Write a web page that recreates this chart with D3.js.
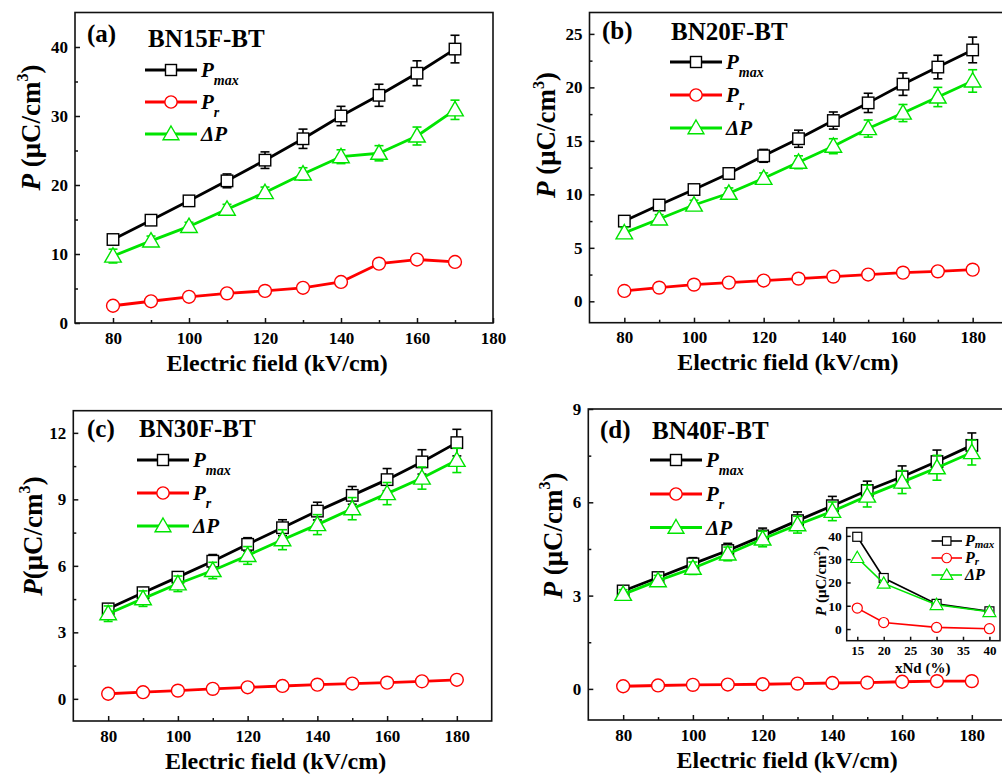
<!DOCTYPE html>
<html>
<head>
<meta charset="utf-8">
<script src="https://cdn.jsdelivr.net/npm/d3@7"></script>
<style>
html, body { margin: 0; padding: 0; background: #fff; }
svg { display: block; font-family: "Liberation Serif", "Times New Roman", serif; }
</style>
</head>
<body>
<svg id="chart" width="1002" height="775"></svg>
<script>
// ---- Polarization vs electric field, four compositions ----
const fieldA = [80, 90, 100, 110, 120, 130, 140, 150, 160, 170];
const pmaxA = [12.1, 14.9, 17.7, 20.6, 23.6, 26.7, 30.0, 33.0, 36.2, 39.7];
const pmaxErrA = [0.5, 0.5, 0.7, 1.0, 1.2, 1.4, 1.4, 1.6, 1.8, 2.0];
const prA = [2.5, 3.15, 3.8, 4.3, 4.65, 5.1, 5.95, 8.6, 9.2, 8.85];
const dpA = [9.7, 11.9, 14.0, 16.5, 18.9, 21.6, 24.1, 24.6, 27.1, 30.9];
const dpErrA = [1.0, 0.7, 0.6, 0.7, 0.8, 0.9, 1.0, 1.1, 1.3, 1.4];

const fieldB = [80, 90, 100, 110, 120, 130, 140, 150, 160, 170, 180];
const pmaxB = [7.5, 9.0, 10.45, 11.95, 13.6, 15.2, 16.9, 18.55, 20.3, 21.9, 23.5];
const pmaxErrB = [0.3, 0.3, 0.4, 0.5, 0.6, 0.8, 0.8, 0.9, 1.05, 1.1, 1.2];
const prB = [0.97, 1.28, 1.56, 1.75, 1.94, 2.12, 2.31, 2.5, 2.68, 2.8, 2.96];
const dpB = [6.4, 7.7, 9.0, 10.1, 11.5, 13.0, 14.5, 16.15, 17.6, 19.1, 20.6];
const dpErrB = [0.5, 0.4, 0.45, 0.5, 0.5, 0.6, 0.7, 0.8, 0.8, 0.9, 1.05];

const fieldC = [80, 90, 100, 110, 120, 130, 140, 150, 160, 170, 180];
const pmaxC = [4.06, 4.79, 5.49, 6.21, 6.97, 7.72, 8.47, 9.18, 9.89, 10.69, 11.56];
const pmaxErrC = [0.2, 0.2, 0.2, 0.3, 0.3, 0.36, 0.4, 0.4, 0.5, 0.55, 0.6];
const prC = [0.23, 0.3, 0.37, 0.45, 0.52, 0.58, 0.64, 0.69, 0.73, 0.79, 0.86];
const dpC = [3.84, 4.52, 5.19, 5.79, 6.47, 7.18, 7.86, 8.58, 9.26, 9.96, 10.76];
const dpErrC = [0.35, 0.35, 0.35, 0.37, 0.4, 0.45, 0.45, 0.5, 0.5, 0.5, 0.55];

const fieldD = [80, 90, 100, 110, 120, 130, 140, 150, 160, 170, 180];
const pmaxD = [3.15, 3.58, 4.02, 4.45, 4.92, 5.41, 5.89, 6.38, 6.82, 7.31, 7.83];
const pmaxErrD = [0.12, 0.15, 0.2, 0.23, 0.25, 0.28, 0.3, 0.3, 0.35, 0.37, 0.4];
const prD = [0.085, 0.11, 0.13, 0.14, 0.15, 0.17, 0.19, 0.2, 0.23, 0.25, 0.25];
const dpD = [3.04, 3.48, 3.88, 4.34, 4.82, 5.28, 5.71, 6.2, 6.65, 7.11, 7.6];
const dpErrD = [0.15, 0.17, 0.2, 0.22, 0.25, 0.27, 0.3, 0.35, 0.37, 0.4, 0.4];

// tick labels
const fieldTicks = [80, 100, 120, 140, 160, 180];
const yTicksA = [0, 10, 20, 30, 40];
const yTicksB = [0, 5, 10, 15, 20, 25];
const yTicksC = [0, 3, 6, 9, 12];
const yTicksD = [0, 3, 6, 9];

// ---- Inset: values at the highest field vs Nd content ----
const ndContent = [15, 20, 30, 40];
const insetPmax = [39.6, 21.9, 10.8, 7.6];
const insetPr = [9.0, 2.8, 0.7, 0.15];
const insetDp = [30.6, 19.6, 10.4, 7.4];
const insetXTicks = [15, 20, 25, 30, 35, 40];
const insetYTicks = [0, 10, 20, 30, 40];

const COLORS = { Pmax: "#000000", Pr: "#ff0000", "ΔP": "#00e400" };
const SHAPES = { Pmax: "square", Pr: "circle", "ΔP": "triangle" };

const svg = d3.select("#chart");
svg.append("rect").attr("width", 1002).attr("height", 775).attr("fill", "#fff");

function drawMarker(g, shape, cx, cy, size, color, sw) {
  if (shape === "square") {
    g.append("rect").attr("x", cx - size / 2).attr("y", cy - size / 2)
      .attr("width", size).attr("height", size)
      .attr("fill", "#fff").attr("stroke", color).attr("stroke-width", sw);
  } else if (shape === "circle") {
    g.append("circle").attr("cx", cx).attr("cy", cy).attr("r", size * 0.56)
      .attr("fill", "#fff").attr("stroke", color).attr("stroke-width", sw);
  } else {
    const w = size * 0.72, h = size * 1.25;
    const pts = [[cx, cy - h * 0.58], [cx + w, cy + h * 0.42], [cx - w, cy + h * 0.42]];
    g.append("path").attr("d", "M" + pts.map(p => p.join(",")).join("L") + "Z")
      .attr("fill", "#fff").attr("stroke", color).attr("stroke-width", sw);
  }
}

function styleAxis(g, size) {
  g.attr("font-family", "Liberation Serif, Times New Roman, serif")
    .attr("font-size", size).attr("font-weight", "bold");
  g.select(".domain").remove();
  g.selectAll(".tick line").attr("stroke", "#111").attr("stroke-width", 1.5);
  g.selectAll(".tick text").attr("fill", "#000");
}

function midpoints(t) {
  const out = [];
  for (let i = 0; i < t.length - 1; i++) out.push((t[i] + t[i + 1]) / 2);
  return out;
}

function pLabel(g, x, y, size, superscript, spaced) {
  const t = g.append("text")
    .attr("transform", `translate(${x},${y}) rotate(-90)`)
    .attr("text-anchor", "middle")
    .attr("font-size", size).attr("font-weight", "bold").attr("fill", "#000");
  t.append("tspan").attr("font-style", "italic").text("P");
  t.append("tspan").text((spaced ? " " : "") + "(μC/cm");
  t.append("tspan").attr("font-size", size * 0.6).attr("dy", -size * 0.42).text(superscript);
  t.append("tspan").attr("dy", size * 0.42).text(")");
}

function legendText(g, x, y, name, size, subSize, subDy) {
  const t = g.append("text").attr("x", x).attr("y", y)
    .attr("font-size", size).attr("font-weight", "bold").attr("font-style", "italic")
    .attr("fill", "#000");
  if (name === "ΔP") {
    t.text("ΔP");
  } else {
    t.append("tspan").text("P");
    t.append("tspan").attr("font-size", subSize).attr("dy", subDy)
      .text(name === "Pmax" ? "max" : "r");
  }
}

function drawPanel(p) {
  const x = d3.scaleLinear().domain(p.xDomain).range([p.left, p.right]);
  const y = d3.scaleLinear().domain(p.yDomain).range([p.bottom, p.top]);
  const g = svg.append("g");

  // axes with inward ticks
  const xa = g.append("g").attr("transform", `translate(0,${p.bottom})`)
    .call(d3.axisBottom(x).tickValues(fieldTicks).tickSizeInner(-5).tickSizeOuter(0)
      .tickPadding(8.5).tickFormat(d3.format("d")));
  styleAxis(xa, 17);
  const xm = g.append("g").attr("transform", `translate(0,${p.bottom})`)
    .call(d3.axisBottom(x).tickValues(midpoints(fieldTicks).filter(v => v < p.xDomain[1]))
      .tickSizeInner(-3).tickSizeOuter(0).tickFormat(""));
  styleAxis(xm, 17);
  const ya = g.append("g").attr("transform", `translate(${p.left},0)`)
    .call(d3.axisLeft(y).tickValues(p.yTicks).tickSizeInner(-5).tickSizeOuter(0)
      .tickPadding(7).tickFormat(d3.format("d")));
  styleAxis(ya, 17);
  const ym = g.append("g").attr("transform", `translate(${p.left},0)`)
    .call(d3.axisLeft(y).tickValues(midpoints(p.yTicks)).tickSizeInner(-3).tickSizeOuter(0).tickFormat(""));
  styleAxis(ym, 17);

  // frame
  g.append("rect").attr("x", p.left).attr("y", p.top)
    .attr("width", p.right - p.left).attr("height", p.bottom - p.top)
    .attr("fill", "none").attr("stroke", "#111").attr("stroke-width", 1.6);

  // series: line, error bars, markers
  const line = d3.line().x(d => x(d[0])).y(d => y(d[1]));
  p.series.forEach(s => {
    const color = COLORS[s.name];
    const pts = p.field.map((f, i) => [f, s.values[i]]);
    g.append("path").attr("d", line(pts)).attr("fill", "none")
      .attr("stroke", color).attr("stroke-width", 2.8).attr("stroke-linejoin", "round");
    if (s.errors) {
      pts.forEach((d, i) => {
        const cx = x(d[0]), y1 = y(d[1] + s.errors[i]), y2 = y(d[1] - s.errors[i]);
        g.append("line").attr("x1", cx).attr("x2", cx).attr("y1", y1).attr("y2", y2)
          .attr("stroke", color).attr("stroke-width", 1.6);
        [y1, y2].forEach(yy => g.append("line").attr("x1", cx - 4.5).attr("x2", cx + 4.5)
          .attr("y1", yy).attr("y2", yy).attr("stroke", color).attr("stroke-width", 1.6));
      });
    }
    pts.forEach(d => drawMarker(g, SHAPES[s.name], x(d[0]), y(d[1]), 11.5, color, 1.4));
  });

  // axis titles
  g.append("text").attr("x", (p.left + Math.min(p.right, 1000)) / 2 - 7)
    .attr("y", p.bottom + 47.5).attr("text-anchor", "middle")
    .attr("font-size", 24).attr("font-weight", "bold").attr("fill", "#000")
    .text("Electric field (kV/cm)");
  pLabel(g, p.yLabel[0], p.yLabel[1], 27, "3", p.spaced);

  // panel letter and composition
  g.append("text").attr("x", p.letterPos[0]).attr("y", p.letterPos[1])
    .attr("font-size", 25).attr("font-weight", "bold").attr("fill", "#000").text(p.letter);
  g.append("text").attr("x", p.titlePos[0]).attr("y", p.titlePos[1])
    .attr("font-size", 25).attr("font-weight", "bold").attr("fill", "#000").text(p.title);

  // legend
  p.series.forEach((s, i) => {
    const ly = p.legendRows[i], lx = p.legendX, color = COLORS[s.name];
    g.append("line").attr("x1", lx).attr("x2", lx + 52).attr("y1", ly).attr("y2", ly)
      .attr("stroke", color).attr("stroke-width", 2.8);
    drawMarker(g, SHAPES[s.name], lx + 26, ly, 11, color, 1.4);
    legendText(g, lx + 56, ly + 7, s.name, 21, 14, 8);
  });
  return { x, y };
}

const panels = [
  {
    letter: "(a)", title: "BN15F-BT", left: 75, right: 493, top: 12.5, bottom: 323,
    xDomain: [70, 180], yDomain: [0, 45], yTicks: yTicksA, field: fieldA,
    series: [
      { name: "Pmax", values: pmaxA, errors: pmaxErrA },
      { name: "Pr", values: prA },
      { name: "ΔP", values: dpA, errors: dpErrA }
    ],
    letterPos: [87, 41.5], titlePos: [148, 46.5], legendX: 145, legendRows: [70, 102, 134],
    yLabel: [39.5, 127.5], spaced: true
  },
  {
    letter: "(b)", title: "BN20F-BT", left: 589.5, right: 1007.5, top: 12.5, bottom: 322.7,
    xDomain: [70, 190], yDomain: [-2, 27], yTicks: yTicksB, field: fieldB,
    series: [
      { name: "Pmax", values: pmaxB, errors: pmaxErrB },
      { name: "Pr", values: prB },
      { name: "ΔP", values: dpB, errors: dpErrB }
    ],
    letterPos: [602, 38.5], titlePos: [671, 40], legendX: 670, legendRows: [62, 95, 128],
    yLabel: [555, 135], spaced: true
  },
  {
    letter: "(c)", title: "BN30F-BT", left: 73.3, right: 491.7, top: 410.7, bottom: 721,
    xDomain: [70, 190], yDomain: [-1, 13], yTicks: yTicksC, field: fieldC,
    series: [
      { name: "Pmax", values: pmaxC, errors: pmaxErrC },
      { name: "Pr", values: prC },
      { name: "ΔP", values: dpC, errors: dpErrC }
    ],
    letterPos: [87, 436.5], titlePos: [139, 437.3], legendX: 137, legendRows: [460, 493, 526],
    yLabel: [41.5, 536], spaced: false
  },
  {
    letter: "(d)", title: "BN40F-BT", left: 588.3, right: 1006.7, top: 409, bottom: 720,
    xDomain: [70, 190], yDomain: [-1, 9], yTicks: yTicksD, field: fieldD,
    series: [
      { name: "Pmax", values: pmaxD, errors: pmaxErrD },
      { name: "Pr", values: prD },
      { name: "ΔP", values: dpD, errors: dpErrD }
    ],
    letterPos: [600, 438.3], titlePos: [652, 439.3], legendX: 650, legendRows: [460, 494, 527.5],
    yLabel: [561.5, 535.5], spaced: true
  }
];

panels.forEach(drawPanel);

// ---- inset in panel (d) ----
(function drawInset() {
  const box = { left: 846.7, right: 1000, top: 527.7, bottom: 640.7 };
  const x = d3.scaleLinear().domain([13, 42]).range([box.left, box.right]);
  const y = d3.scaleLinear().domain([-5, 43.5]).range([box.bottom, box.top]);
  const g = svg.append("g");
  g.append("rect").attr("x", box.left).attr("y", box.top)
    .attr("width", box.right - box.left).attr("height", box.bottom - box.top)
    .attr("fill", "#fff");

  const xa = g.append("g").attr("transform", `translate(0,${box.bottom})`)
    .call(d3.axisBottom(x).tickValues(insetXTicks).tickSizeInner(-4).tickSizeOuter(0)
      .tickPadding(5).tickFormat(d3.format("d")));
  styleAxis(xa, 13);
  const ya = g.append("g").attr("transform", `translate(${box.left},0)`)
    .call(d3.axisLeft(y).tickValues(insetYTicks).tickSizeInner(-4).tickSizeOuter(0)
      .tickPadding(5).tickFormat(d3.format("d")));
  styleAxis(ya, 13.5);

  g.append("rect").attr("x", box.left).attr("y", box.top)
    .attr("width", box.right - box.left).attr("height", box.bottom - box.top)
    .attr("fill", "none").attr("stroke", "#111").attr("stroke-width", 1.5);

  const line = d3.line().x(d => x(d[0])).y(d => y(d[1]));
  const insetSeries = [
    { name: "Pmax", values: insetPmax },
    { name: "Pr", values: insetPr },
    { name: "ΔP", values: insetDp }
  ];
  insetSeries.forEach(s => {
    const color = COLORS[s.name];
    const pts = ndContent.map((n, i) => [n, s.values[i]]);
    g.append("path").attr("d", line(pts)).attr("fill", "none")
      .attr("stroke", color).attr("stroke-width", 1.6);
    pts.forEach(d => drawMarker(g, SHAPES[s.name], x(d[0]), y(d[1]), 9, color, 1.2));
  });

  // legend
  const rows = [541, 558, 575];
  insetSeries.forEach((s, i) => {
    const color = COLORS[s.name];
    g.append("line").attr("x1", 931.5).attr("x2", 962).attr("y1", rows[i]).attr("y2", rows[i])
      .attr("stroke", color).attr("stroke-width", 1.6);
    drawMarker(g, SHAPES[s.name], 946.7, rows[i], 8.5, color, 1.2);
    legendText(g, 965, rows[i] + 5, s.name, 16, 11, 2);
  });

  g.append("text").attr("x", 922.7).attr("y", 672.5).attr("text-anchor", "middle")
    .attr("font-size", 15).attr("font-weight", "bold").attr("fill", "#000").text("xNd (%)");
  pLabel(g, 826, 581, 15, "2", true);
})();
</script>
</body>
</html>
